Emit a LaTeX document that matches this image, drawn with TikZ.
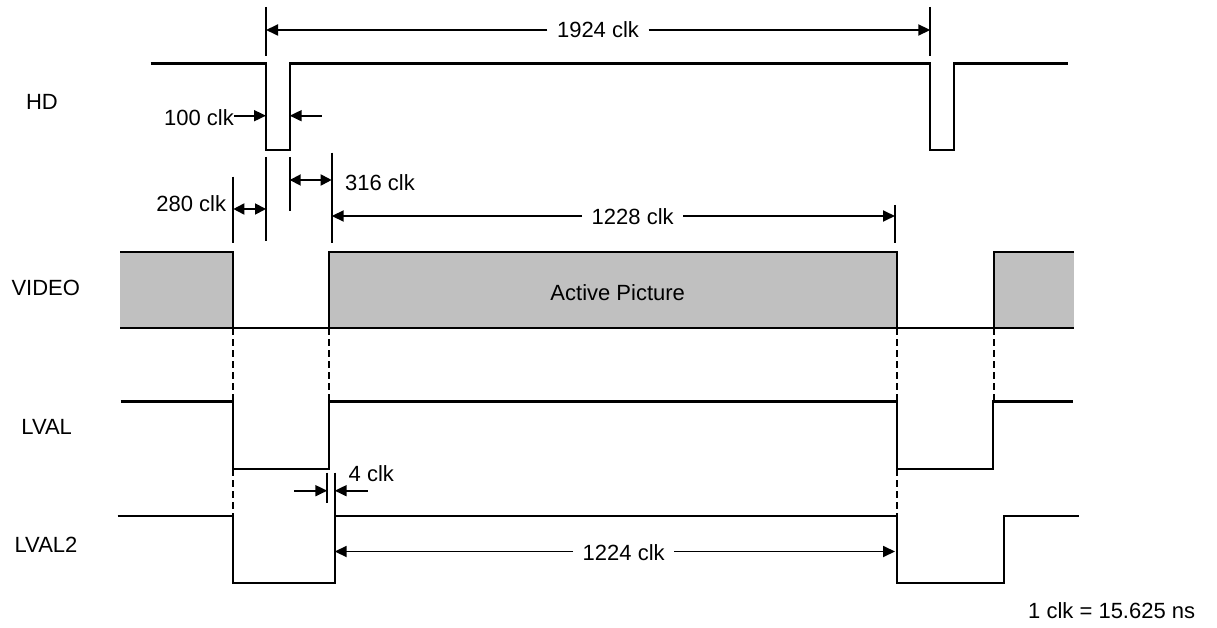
\documentclass[tikz,border=0pt]{standalone}
\usepackage{fontspec}
\setmainfont{Liberation Sans}
\usetikzlibrary{arrows.meta}
\definecolor{vgray}{RGB}{192,192,192}
\begin{document}
\begin{tikzpicture}[x=1pt,y=-1pt,
  sig/.style={line width=2.2pt, line join=miter},
  tickline/.style={line width=1.8pt},
  arr/.style={line width=1.8pt,-{Triangle[length=12pt,width=11pt]}},
  darr/.style={line width=1.8pt,{Triangle[length=11pt,width=11pt]}-{Triangle[length=11pt,width=11pt]}},
  lbl/.style={font=\fontsize{22}{26}\selectfont, inner sep=0pt},
  dimlbl/.style={font=\fontsize{22}{26}\selectfont, inner ysep=0pt, inner xsep=9.5pt},
  vdash/.style={line width=1.8pt, dash pattern=on 6.5pt off 4.5pt}]
\useasboundingbox (0,0) rectangle (1217,628);

% ---------- signal labels ----------
\node[lbl] (lhd)    at (42,102.3)  {HD};
\node[lbl] (lvideo) at (45.8,288)  {VIDEO};
\node[lbl] (llval)  at (46.7,426.7) {LVAL};
\node[lbl] (llval2) at (46,545)    {LVAL2};

% ---------- HD ----------
\draw[sig] (150.7,63.5) -- (266,63.5) -- (266,150) -- (289.7,150) -- (289.7,63.5)
  -- (930.3,63.5) -- (930.3,150) -- (954,150) -- (954,63.5) -- (1067.7,63.5);

% ---------- VIDEO ----------
\fill[vgray] (120,252) rectangle (233.3,328);
\fill[vgray] (994,252) rectangle (1074,328);
\filldraw[fill=vgray, draw=black, line width=2.2pt] (329.3,252) rectangle (896.7,328);
\draw[sig] (120,252) -- (233.3,252) -- (233.3,328);
\draw[sig] (1074,252) -- (994,252) -- (994,328);
\draw[sig] (120,328) -- (1074,328);
\node[lbl] (active) at (617.7,293) {Active Picture};

% ---------- LVAL ----------
\draw[sig] (120.7,401.5) -- (232.7,401.5) -- (232.7,469) -- (328.7,469) -- (328.7,401.5)
  -- (896.7,401.5) -- (896.7,469.3) -- (993.3,469.3) -- (993.3,401.5) -- (1073,401.5);

% ---------- LVAL2 ----------
\draw[sig] (117.7,515.7) -- (232.7,515.7) -- (232.7,583) -- (334.7,583) -- (334.7,515.7)
  -- (896.7,515.7) -- (896.7,582.7) -- (1003.7,582.7) -- (1003.7,515.7) -- (1078.7,515.7);

% ---------- dashed guides ----------
\draw[vdash] (232.7,328) -- (232.7,401.5);
\draw[vdash] (232.7,469) -- (232.7,515.7);
\draw[vdash] (328.7,328) -- (328.7,401.5);
\draw[vdash] (896.7,328) -- (896.7,401.5);
\draw[vdash] (896.7,469.3) -- (896.7,515.7);
\draw[vdash] (994,328) -- (994,401.5);

% ---------- extension ticks ----------
\draw[tickline] (266,7) -- (266,56);
\draw[tickline] (930.3,7) -- (930.3,56);
\draw[tickline] (266,157) -- (266,241);
\draw[tickline] (289.7,157) -- (289.7,210.7);
\draw[tickline] (331.7,152.7) -- (331.7,243);
\draw[tickline] (233.3,176.7) -- (233.3,243);
\draw[tickline] (895,205) -- (895,243);
\draw[tickline] (327.3,472.7) -- (327.3,503);
\draw[tickline] (334.7,472.7) -- (334.7,515.7);

% ---------- 1924 clk ----------
\node[dimlbl] (t1924) at (598,30) {1924 clk};
\coordinate (a1924l) at (266,30);
\coordinate (a1924r) at (930.3,30);
\draw[arr] (t1924.west) -- (a1924l);
\draw[arr] (t1924.east) -- (a1924r);

% ---------- 100 clk ----------
\node[lbl, anchor=east] (t100) at (234,117.5) {100 clk};
\coordinate (a100l) at (266,115.7);
\coordinate (a100s) at (321.7,115.7);
\coordinate (a100r) at (289.7,115.7);
\draw[arr] (t100.east |- a100l) -- (a100l);
\draw[arr] (a100s) -- (a100r);

% ---------- 280 clk ----------
\node[lbl] (t280) at (191.3,203.3) {280 clk};
\coordinate (a280l) at (233.3,209);
\coordinate (a280r) at (266,209);
\draw[darr] (a280l) -- (a280r);

% ---------- 316 clk ----------
\node[lbl, anchor=west] (t316) at (345,182.7) {316 clk};
\coordinate (a316l) at (289.7,180);
\coordinate (a316r) at (331.7,180);
\draw[darr] (a316l) -- (a316r);

% ---------- 1228 clk ----------
\node[dimlbl] (t1228) at (632.7,217) {1228 clk};
\coordinate (a1228l) at (331.7,216);
\coordinate (a1228r) at (895,216);
\draw[arr] (t1228.west |- a1228l) -- (a1228l);
\draw[arr] (t1228.east |- a1228r) -- (a1228r);

% ---------- 4 clk ----------
\node[lbl] (t4) at (371.3,474) {4 clk};
\coordinate (a4ls) at (294.3,490.7);
\coordinate (a4l) at (327.3,490.7);
\coordinate (a4rs) at (367.7,490.7);
\coordinate (a4r) at (334.7,490.7);
\draw[arr] (a4ls) -- (a4l);
\draw[arr] (a4rs) -- (a4r);

% ---------- 1224 clk ----------
\node[dimlbl] (t1224) at (623.7,552.5) {1224 clk};
\coordinate (a1224l) at (334.7,551.5);
\coordinate (a1224r) at (895,551.5);
\draw[arr] (t1224.west |- a1224l) -- (a1224l);
\draw[arr] (t1224.east |- a1224r) -- (a1224r);

% ---------- note ----------
\node[lbl] (note) at (1111.7,611) {1 clk = 15.625 ns};
\end{tikzpicture}
\end{document}
